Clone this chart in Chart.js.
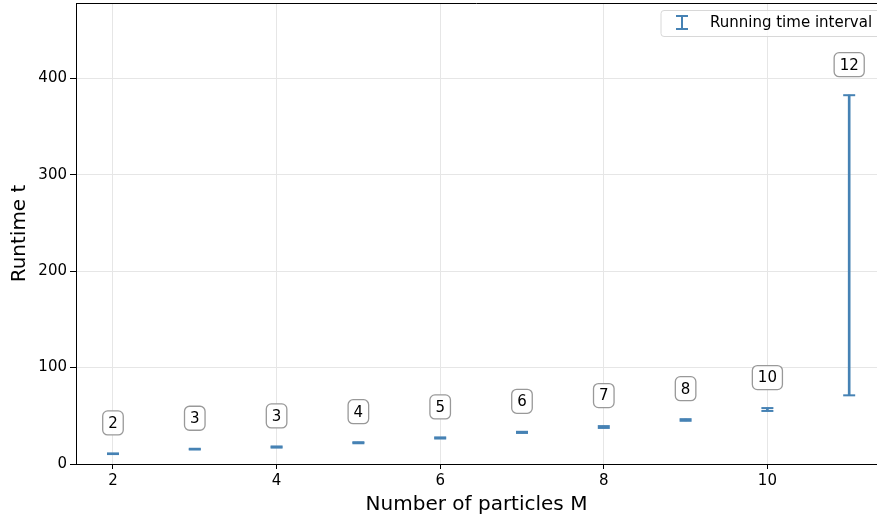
<!DOCTYPE html>
<html lang="en">
<head>
  <meta charset="UTF-8">
  <title>Runtime vs number of particles</title>
  <script src="https://cdn.jsdelivr.net/npm/chart.js@4.4.0/dist/chart.umd.min.js"></script>
  <style>
    html, body { margin: 0; padding: 0; background: #fff; overflow: hidden; width: 877px; height: 517px; }
    /* slightly bigger than the window so the frame runs off the right edge */
    #box { width: 885px; height: 522px; position: absolute; left: 0; top: -5px; }
  </style>
</head>
<body>
  <div id="box"><canvas id="runtime"></canvas></div>

<script>
  // number of particles and the measured min / max running time
  var particles = [2, 3, 4, 5, 6, 7, 8, 9, 10, 11];
  var timeLow  = [10.3, 15.0, 17.0, 21.5, 26.4, 32.2, 37.4, 44.8, 55.0, 71.2];
  var timeHigh = [11.0, 15.8, 18.2, 22.6, 27.6, 33.4, 39.3, 46.5, 58.0, 382.4];
  // numbers written in the boxes above each interval
  var boxLabels = ['2', '3', '3', '4', '5', '6', '7', '8', '10', '12'];
  var xTicks = [2, 4, 6, 8, 10];
  var yTicks = [0, 100, 200, 300, 400];

  var blue = '#4682b4';
  var font = 'DejaVu Sans';

  var stems = particles.map(function (m, i) { return { x: m, y: [timeLow[i], timeHigh[i]] }; });
  var caps = [];
  particles.forEach(function (m, i) {
    caps.push({ x: m, y: timeLow[i] });
    caps.push({ x: m, y: timeHigh[i] });
  });

  // no extra room for half tick labels at the ends of the axes
  function noEdgePadding(s) {
    s.paddingLeft = 0; s.paddingRight = 0;
    s.paddingTop = 0; s.paddingBottom = 0;
  }

  // boxed numbers above the top of every interval + the top frame line
  var boxes = {
    id: 'boxes',
    afterDatasetsDraw: function (chart) {
      var c = chart.ctx, xs = chart.scales.x, ys = chart.scales.y;
      c.save();
      c.font = '15px "' + font + '"';
      c.textAlign = 'center';
      c.textBaseline = 'middle';
      particles.forEach(function (m, i) {
        var px = xs.getPixelForValue(m);
        var py = ys.getPixelForValue(timeHigh[i]) - 30.5;
        var w = c.measureText(boxLabels[i]).width + 11;
        var h = 24;
        c.beginPath();
        c.roundRect(px - w / 2, py - h / 2, w, h, 5);
        c.fillStyle = 'rgba(255,255,255,0.9)';
        c.fill();
        c.lineWidth = 1.3;
        c.strokeStyle = '#999';
        c.stroke();
        c.fillStyle = '#000';
        c.fillText(boxLabels[i], px, py + 1);
      });
      var a = chart.chartArea;
      c.beginPath();
      c.moveTo(a.left, a.top + 0.5);
      c.lineTo(a.right, a.top + 0.5);
      c.lineWidth = 1;
      c.strokeStyle = '#000';
      c.stroke();
      c.restore();
    }
  };

  // legend box in the upper right corner, placed from the plot's top-right
  var legendBox = {
    id: 'legendBox',
    afterDraw: function (chart) {
      var c = chart.ctx, a = chart.chartArea;
      var x0 = a.right - 216, y0 = a.top + 7.5;
      c.save();
      c.beginPath();
      c.roundRect(x0, y0, 230, 26, 3);
      c.fillStyle = 'rgba(255,255,255,0.8)';
      c.fill();
      c.strokeStyle = '#d8d8d8';
      c.lineWidth = 1;
      c.stroke();
      c.strokeStyle = blue;
      c.lineWidth = 2;
      c.beginPath();
      c.moveTo(x0 + 21, y0 + 5.5); c.lineTo(x0 + 21, y0 + 18.5);
      c.moveTo(x0 + 15, y0 + 5.5); c.lineTo(x0 + 27, y0 + 5.5);
      c.moveTo(x0 + 15, y0 + 18.5); c.lineTo(x0 + 27, y0 + 18.5);
      c.stroke();
      c.fillStyle = '#000';
      c.font = '15px "' + font + '"';
      c.textBaseline = 'middle';
      c.fillText('Running time interval', x0 + 49, y0 + 13);
      c.restore();
    }
  };

  var ctx = document.getElementById('runtime').getContext('2d');
  var chart = new Chart(ctx, {
    data: {
      datasets: [{
        type: 'bar',
        label: 'Running time interval',
        data: stems,
        backgroundColor: blue,
        borderWidth: 0,
        barThickness: 2
      }, {
        type: 'scatter',
        label: 'caps',
        data: caps,
        pointStyle: 'line',
        pointRadius: 6,
        pointHoverRadius: 6,
        borderColor: blue,
        borderWidth: 2,
        showLine: false
      }]
    },
    options: {
      responsive: true,
      maintainAspectRatio: false,
      animation: false,
      layout: { padding: { top: 3, right: 0, left: 0, bottom: 0 } },
      plugins: {
        legend: { display: false },
        tooltip: { enabled: false }
      },
      scales: {
        x: {
          type: 'linear',
          offset: false,
          min: 1.548,
          max: 11.34,
          afterFit: function (s) { s.height = 53; noEdgePadding(s); },
          afterBuildTicks: function (s) {
            s.ticks = xTicks.map(function (v) { return { value: v }; });
          },
          grid: { offset: false, color: '#e6e6e6', tickColor: '#000', tickLength: 5, lineWidth: 1 },
          border: { color: '#000', width: 1 },
          ticks: { color: '#000', font: { family: font, size: 15 }, padding: 3, maxRotation: 0 },
          title: {
            display: true, text: 'Number of particles M', color: '#000',
            font: { family: font, size: 20 }, padding: { top: 0, bottom: 0 }
          }
        },
        y: {
          min: 0,
          max: 478,
          afterFit: function (s) { s.width = 76; noEdgePadding(s); },
          afterBuildTicks: function (s) {
            s.ticks = yTicks.map(function (v) { return { value: v }; });
          },
          grid: { color: '#e6e6e6', tickColor: '#000', tickLength: 6, lineWidth: 1 },
          border: { color: '#000', width: 1 },
          ticks: { color: '#000', font: { family: font, size: 15 }, padding: 3 },
          title: {
            display: true, text: 'Runtime t', color: '#000',
            font: { family: font, size: 20 }, padding: { top: 8, bottom: 0 }
          }
        }
      }
    },
    plugins: [boxes, legendBox]
  });
</script>
</body>
</html>
